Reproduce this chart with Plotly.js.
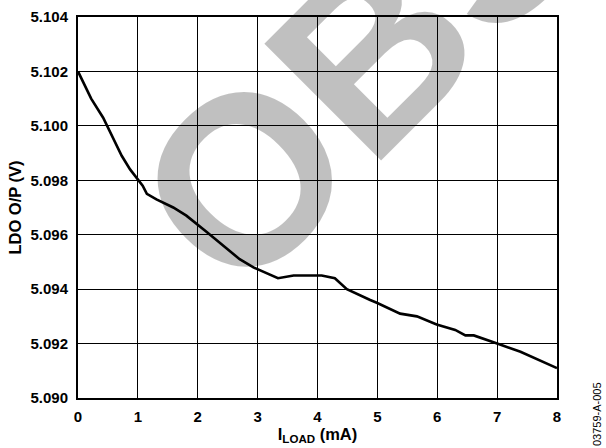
<!DOCTYPE html>
<html>
<head>
<meta charset="utf-8">
<script src="https://cdn.plot.ly/plotly-3.0.1.min.js"></script>
<style>html,body{margin:0;padding:0;background:#fff;}#chart{width:606px;height:448px;}</style>
</head>
<body>
<div id="chart"></div>
<script>
// Load current (mA)
const loadCurrent = [0, 0.22, 0.42, 0.53, 0.73, 0.87, 1.00, 1.08, 1.15, 1.31, 1.59, 1.81, 2.15, 2.43, 2.70, 2.93, 3.34, 3.60, 4.07, 4.29, 4.49, 4.88, 4.99, 5.38, 5.66, 5.99, 6.30, 6.47, 6.61, 7.00, 7.39, 8.00];
// LDO output voltage (V)
const ldoOutput = [5.1020, 5.1010, 5.1003, 5.0998, 5.0989, 5.0984, 5.0980, 5.0978, 5.0975, 5.0973, 5.0970, 5.0967, 5.0961, 5.0956, 5.0951, 5.0948, 5.0944, 5.0945, 5.0945, 5.0944, 5.0940, 5.0936, 5.0935, 5.0931, 5.0930, 5.0927, 5.0925, 5.0923, 5.0923, 5.0920, 5.0917, 5.0911];
const xTicks = [0, 1, 2, 3, 4, 5, 6, 7, 8];
const yTicks = [5.090, 5.092, 5.094, 5.096, 5.098, 5.100, 5.102, 5.104];
const xTitle = 'I<sub>LOAD</sub> (mA)';
const yTitle = 'LDO O/P (V)';
const figureId = '03759-A-005';
const watermark = 'OBSOLETE';

const FONT = 'Liberation Sans, Arial, Helvetica, sans-serif';

const trace = {
  x: loadCurrent,
  y: ldoOutput,
  type: 'scatter',
  mode: 'lines',
  line: {color: '#000', width: 2.6},
  hoverinfo: 'skip'
};

const axisCommon = {
  showgrid: true,
  gridcolor: '#000',
  gridwidth: 1,
  showline: true,
  linecolor: '#000',
  linewidth: 2,
  mirror: true,
  zeroline: false,
  ticks: '',
  tickfont: {family: FONT, size: 15, color: '#000', weight: 'bold'}
};

const layout = {
  width: 606,
  height: 448,
  margin: {l: 78, r: 49, t: 17, b: 50},
  paper_bgcolor: '#fff',
  plot_bgcolor: '#fff',
  showlegend: false,
  xaxis: Object.assign({}, axisCommon, {
    range: [0, 8],
    tickvals: xTicks,
    ticktext: xTicks.map(String),
    ticklabelstandoff: 4,
    title: {text: xTitle, standoff: 4, font: {family: FONT, size: 16.5, color: '#000', weight: 'bold'}}
  }),
  yaxis: Object.assign({}, axisCommon, {
    range: [5.090, 5.104],
    tickvals: yTicks,
    ticktext: yTicks.map(v => v.toFixed(3)),
    ticklabelstandoff: 5,
    title: {text: yTitle, standoff: 5, font: {family: FONT, size: 16.5, color: '#000', weight: 'bold'}}
  }),
  annotations: [{
    text: watermark,
    xref: 'paper', yref: 'paper',
    x: 1.1868, y: 1.626,
    xanchor: 'center', yanchor: 'middle',
    textangle: -45,
    showarrow: false,
    font: {family: FONT, size: 240, color: 'rgba(0,0,0,0.247)', weight: 'bold'}
  }, {
    text: figureId,
    xref: 'paper', yref: 'paper',
    x: 1.0835, y: -0.042,
    xanchor: 'center', yanchor: 'middle',
    textangle: -90,
    showarrow: false,
    font: {family: FONT, size: 11, color: '#000'}
  }]
};

Plotly.newPlot('chart', [trace], layout, {staticPlot: true, displayModeBar: false});
</script>
</body>
</html>
